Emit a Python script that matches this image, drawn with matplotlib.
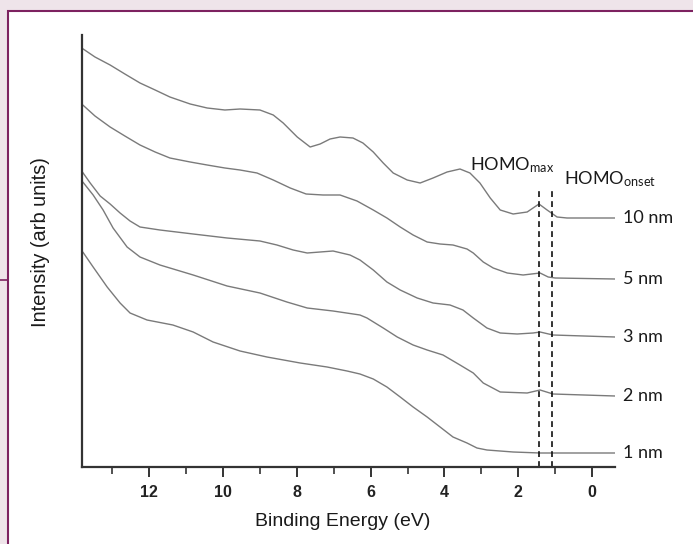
import matplotlib
matplotlib.use("Agg")
import matplotlib.pyplot as plt
from matplotlib.patches import Rectangle
from matplotlib.lines import Line2D
from matplotlib.ticker import MultipleLocator

plt.rcParams['mathtext.fontset'] = 'custom'
plt.rcParams['mathtext.rm'] = 'Lato'
plt.rcParams['mathtext.it'] = 'Lato'

# ---- data (binding energy in eV, intensity in arb units) ----
e_10 = [13.83, 13.47, 13.06, 12.66, 12.25, 11.84, 11.44, 10.89, 10.43, 9.95, 9.54, 9.00, 8.64,
        8.37, 7.99, 7.64, 7.37, 7.10, 6.83, 6.48, 6.21, 5.93, 5.66, 5.39, 5.01, 4.66, 4.31, 3.93,
        3.58, 3.31, 3.04, 2.76, 2.49, 2.14, 1.76, 1.44, 1.22, 0.95, 0.68, -0.62]
i_10 = [419, 410, 402, 393, 384, 377, 370, 363, 359, 357, 358, 357, 352,
        344, 330, 320, 323, 328, 330, 329, 324, 315, 304, 294, 287, 284, 289, 295,
        298, 294, 284, 269, 257, 253, 255, 263, 257, 250, 249, 249]

e_5 = [13.80, 13.47, 13.06, 12.66, 12.25, 11.84, 11.44, 10.89, 10.43, 9.95, 9.54, 9.08, 8.64,
       8.18, 7.75, 7.29, 6.83, 6.37, 5.93, 5.56, 5.20, 4.85, 4.47, 4.12, 3.77, 3.39, 3.22, 2.95,
       2.68, 2.30, 1.87, 1.41, 1.19, 1.00, -0.62]
i_5 = [362, 351, 340, 331, 322, 315, 309, 305, 302, 299, 297, 294, 287,
       279, 273, 272, 272, 266, 257, 249, 240, 232, 225, 223, 222, 218, 214, 205,
       199, 194, 192, 194, 190, 189, 188]

e_3 = [13.83, 13.60, 13.33, 13.06, 12.79, 12.52, 12.25, 11.71, 10.81, 9.89, 9.00, 8.54, 8.10,
       7.72, 7.37, 7.02, 6.56, 6.29, 5.93, 5.56, 5.20, 4.74, 4.31, 3.85, 3.50, 3.22, 2.85, 2.49,
       2.03, 1.60, 1.41, 1.06, -0.62]
i_3 = [296, 284, 271, 263, 254, 246, 240, 237, 233, 229, 226, 222, 217,
       214, 215, 216, 212, 207, 197, 185, 177, 169, 164, 162, 157, 149, 139, 134,
       133, 134, 135, 132, 130]

e_2 = [13.80, 13.52, 13.25, 12.98, 12.60, 12.25, 11.71, 10.81, 9.89, 9.00, 8.27, 7.72, 7.02,
       6.29, 6.10, 5.66, 5.28, 4.85, 4.47, 4.04, 3.58, 3.22, 2.95, 2.49, 1.76, 1.41, 1.06, -0.62]
i_2 = [285, 272, 257, 239, 220, 210, 202, 192, 181, 174, 165, 159, 156,
       152, 149, 139, 130, 122, 117, 112, 102, 94, 84, 75, 74, 77, 73, 71]

e_1 = [13.80, 13.52, 13.14, 12.79, 12.52, 12.06, 11.36, 10.81, 10.27, 9.54, 8.81, 7.91, 7.18,
       6.64, 6.29, 5.93, 5.56, 5.20, 4.85, 4.47, 4.12, 3.77, 3.39, 3.12, 2.85, 2.14, 1.41, -0.62]
i_1 = [215, 200, 180, 164, 154, 147, 142, 135, 125, 116, 110, 104, 100,
       96, 93, 88, 80, 70, 60, 50, 40, 30, 24, 19, 17, 15, 14, 14]

series = [("10 nm", e_10, i_10), ("5 nm", e_5, i_5), ("3 nm", e_3, i_3),
          ("2 nm", e_2, i_2), ("1 nm", e_1, i_1)]

homo_max = 1.44
homo_onset = 1.09
dash_top = 277
xticks = [12, 10, 8, 6, 4, 2, 0]

# ---- figure ----
W, H = 693, 544
fig = plt.figure(figsize=(W / 100, H / 100), dpi=100, facecolor='#efe4ea')

def fx(px):
    return px / W

def fy(py):
    return 1 - py / H

border = '#7d2260'
fig.patches.append(Rectangle((fx(7.5), fy(560)), 1, fy(10.5) - fy(560), transform=fig.transFigure,
                             facecolor='white', edgecolor=border, linewidth=1.5, zorder=-10))
fig.lines.append(Line2D([0, fx(7.5)], [fy(280), fy(280)], transform=fig.transFigure,
                        color=border, linewidth=1.2, zorder=-10))

ax = fig.add_axes([fx(81.7), fy(467), fx(615) - fx(81.7), fy(35) - fy(467)])
ax.set_facecolor('none')
ax.set_zorder(5)

for name, e, inten in series:
    ax.plot(e, inten, color='#7a7a7a', linewidth=1.0, solid_capstyle='round',
            solid_joinstyle='round')
    ax.text(-0.85, inten[-1], name, ha='left', va='center', fontsize=13, family='Lato',
            color='#1a1a1a', clip_on=False)

for xv in (homo_max, homo_onset):
    ax.plot([xv, xv], [0, dash_top], color='#111111', linewidth=1.2, linestyle=(0, (3.5, 2.5)))

ax.text(3.31, 297, r'HOMO$_{\mathrm{max}}$', ha='left', va='baseline', fontsize=13,
        family='Lato', color='#1a1a1a')
ax.text(0.76, 283, r'HOMO$_{\mathrm{onset}}$', ha='left', va='baseline', fontsize=13,
        family='Lato', color='#1a1a1a', clip_on=False)

ax.set_xlim(13.83, -0.62)
ax.set_ylim(0, 432)
ax.spines['top'].set_visible(False)
ax.spines['right'].set_visible(False)
for s in ('left', 'bottom'):
    ax.spines[s].set_color('#333333')
    ax.spines[s].set_linewidth(1.6)
ax.set_yticks([])
ax.set_xticks(xticks)
ax.set_xticklabels([str(t) for t in xticks])
ax.xaxis.set_minor_locator(MultipleLocator(1))
ax.tick_params(axis='x', which='major', direction='out', length=7, width=1.4, color='#333333',
               pad=6, labelsize=11.5)
ax.tick_params(axis='x', which='minor', direction='out', length=5, width=1.2, color='#333333')
for lab in ax.get_xticklabels():
    lab.set_family('Liberation Sans')
    lab.set_fontweight('bold')
    lab.set_color('#222222')

ax.set_xlabel('Binding Energy (eV)', fontsize=14, family='Liberation Sans', color='#1a1a1a')
ax.xaxis.set_label_coords(0.49, -0.125)
ax.xaxis.label.set_va('center')
ax.set_ylabel('Intensity (arb units)', fontsize=14.4, family='Liberation Sans', color='#1a1a1a')
ax.yaxis.set_label_coords(-0.078, 0.52)
ax.yaxis.label.set_va('center')

fig.savefig('out.png', dpi=100, facecolor=fig.get_facecolor())
